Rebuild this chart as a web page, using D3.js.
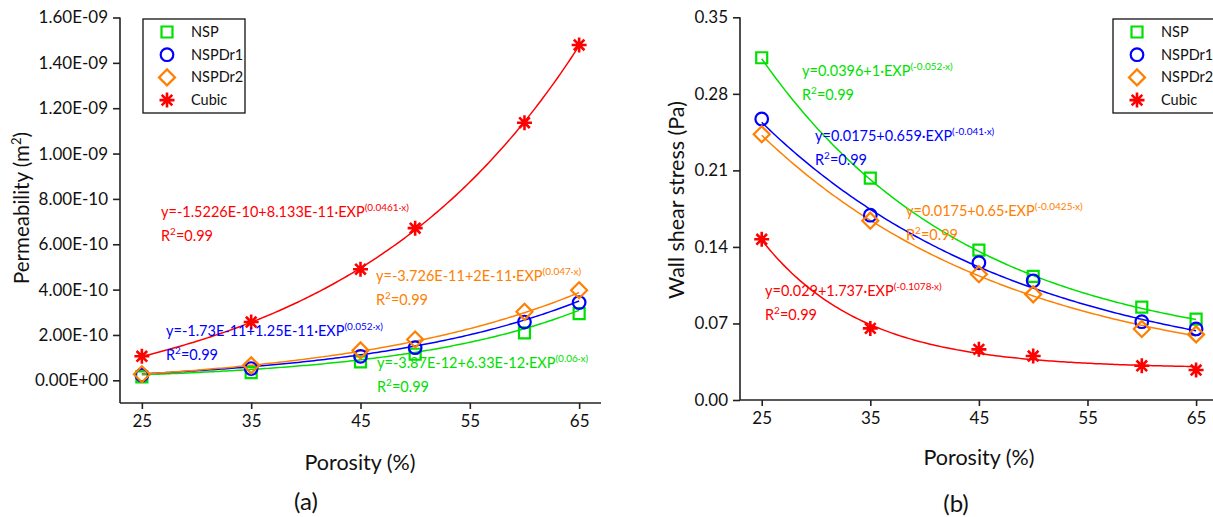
<!DOCTYPE html>
<html>
<head>
<meta charset="utf-8">
<script src="https://cdn.jsdelivr.net/npm/d3@7"></script>
<style>
  body { margin: 0; background: #fff; }
  svg { display: block; }
  text { font-family: Lato, "Open Sans", sans-serif; }
</style>
</head>
<body>
<script>
var w = 1213,
    h = 517;

var porosity = [25, 35, 45, 50, 60, 65];
var xTicks = [25, 35, 45, 55, 65];
var seriesNames = ["NSP", "NSPDr1", "NSPDr2", "Cubic"];
var seriesColors = ["#00e000", "#0000ff", "#ff8000", "#ff0000"];
var seriesShapes = ["square", "circle", "diamond", "star"];

// (a) permeability (m^2)
var permNSP    = [1.5e-11, 3.4e-11, 8.1e-11, 1.15e-10, 2.09e-10, 2.94e-10];
var permNSPDr1 = [2.3e-11, 5.2e-11, 1.06e-10, 1.44e-10, 2.57e-10, 3.43e-10];
var permNSPDr2 = [2.7e-11, 6.6e-11, 1.32e-10, 1.80e-10, 3.02e-10, 3.97e-10];
var permCubic  = [1.06e-10, 2.57e-10, 4.90e-10, 6.71e-10, 1.136e-9, 1.479e-9];
var permTicks = [0, 2e-10, 4e-10, 6e-10, 8e-10, 1e-9, 1.2e-9, 1.4e-9, 1.6e-9];
var permTickLabels = ["0.00E+00", "2.00E-10", "4.00E-10", "6.00E-10", "8.00E-10",
                      "1.00E-09", "1.20E-09", "1.40E-09", "1.60E-09"];
// fit y = a + b*exp(c*x)
var permFitA = [-3.87e-12, -1.73e-11, -3.726e-11, -1.5226e-10];
var permFitB = [6.33e-12, 1.25e-11, 2e-11, 8.133e-11];
var permFitC = [0.06, 0.052, 0.047, 0.0461];
var permEq = ["y=-3.87E-12+6.33E-12·EXP", "y=-1.73E-11+1.25E-11·EXP",
              "y=-3.726E-11+2E-11·EXP", "y=-1.5226E-10+8.133E-11·EXP"];
var permEqExp = ["(0.06·x)", "(0.052·x)", "(0.047·x)", "(0.0461·x)"];

// (b) wall shear stress (Pa)
var wssNSP    = [0.313, 0.203, 0.137, 0.113, 0.085, 0.074];
var wssNSPDr1 = [0.257, 0.169, 0.1255, 0.109, 0.0716, 0.065];
var wssNSPDr2 = [0.243, 0.164, 0.115, 0.0966, 0.065, 0.060];
var wssCubic  = [0.147, 0.0655, 0.0463, 0.0402, 0.0313, 0.0274];
var wssTicks = [0, 0.07, 0.14, 0.21, 0.28, 0.35];
var wssTickLabels = ["0.00", "0.07", "0.14", "0.21", "0.28", "0.35"];
var wssFitA = [0.0396, 0.0175, 0.0175, 0.029];
var wssFitB = [1, 0.659, 0.65, 1.737];
var wssFitC = [-0.052, -0.041, -0.0425, -0.1078];
var wssEq = ["y=0.0396+1·EXP", "y=0.0175+0.659·EXP",
             "y=0.0175+0.65·EXP", "y=0.029+1.737·EXP"];
var wssEqExp = ["(-0.052·x)", "(-0.041·x)", "(-0.0425·x)", "(-0.1078·x)"];

var svg = d3.select("body").append("svg")
  .attr("width", w)
  .attr("height", h);

function symbolPath(shape) {
  if (shape == "square") return "M-5.5,-5.5H5.5V5.5H-5.5Z";
  if (shape == "diamond") return "M0,-8L8,0L0,8L-8,0Z";
  if (shape == "star") return "M0,-7.5V7.5M-7.5,0H7.5M-5.3,-5.3L5.3,5.3M-5.3,5.3L5.3,-5.3";
  return null;
}

function drawMarker(g, shape, color, x, y) {
  if (shape == "circle") {
    g.append("circle").attr("cx", x).attr("cy", y).attr("r", 6.3)
      .attr("fill", "none").attr("stroke", color).attr("stroke-width", 2.2);
  } else {
    g.append("path").attr("d", symbolPath(shape))
      .attr("transform", "translate(" + x + "," + y + ")")
      .attr("fill", "none").attr("stroke", color)
      .attr("stroke-width", shape == "star" ? 2.6 : 2.2);
  }
}

function drawPanel(p) {
  var x = d3.scaleLinear().domain([23, 67]).range(p.xRange);
  var y = d3.scaleLinear().domain(p.yDomain).range(p.yRange);
  var g = svg.append("g");

  // fitted curves
  var xs = d3.range(25, 65.001, 0.25);
  p.series.forEach(function(s, i) {
    var line = d3.line()
      .x(function(d) { return x(d); })
      .y(function(d) { return y(p.fitA[i] + p.fitB[i] * Math.exp(p.fitC[i] * d)); });
    g.append("path").datum(xs).attr("d", line)
      .attr("fill", "none").attr("stroke", seriesColors[i]).attr("stroke-width", 1.5);
  });

  // markers
  p.series.forEach(function(s, i) {
    s.forEach(function(v, j) {
      drawMarker(g, seriesShapes[i], seriesColors[i], x(porosity[j]), y(v));
    });
  });

  // axes
  var xAxis = d3.axisBottom(x).tickValues(xTicks).tickSize(6).tickPadding(6);
  var gx = g.append("g").attr("transform", "translate(0," + p.yRange[0] + ")").call(xAxis);
  var yAxis = d3.axisLeft(y).tickValues(p.yTicks).tickSize(7).tickPadding(5)
    .tickFormat(function(d, i) { return p.yTickLabels[i]; });
  var gy = g.append("g").attr("transform", "translate(" + p.xRange[0] + ",0)").call(yAxis);
  [gx, gy].forEach(function(a) {
    a.select(".domain").attr("stroke", "#222").attr("stroke-width", 1.6);
    a.selectAll(".tick line").attr("stroke", "#222").attr("stroke-width", 1.6);
    a.selectAll(".tick text").attr("font-size", "17px").attr("fill", "#111")
      .style("font-family", "Lato, sans-serif");
  });
  gx.select(".domain").attr("d", "M" + p.xRange[0] + ",0H" + p.xRange[1]);
  gy.select(".domain").attr("d", "M0," + p.yRange[0] + "V" + p.yRange[1]);

  // equations
  p.eq.forEach(function(t, i) {
    var pos = p.eqPos[i];
    var t1 = g.append("text").attr("x", pos[0]).attr("y", pos[1])
      .attr("fill", seriesColors[i]).attr("font-size", "14.5px");
    t1.append("tspan").text(t);
    t1.append("tspan").attr("dy", -6).attr("font-size", "10px").text(p.eqExp[i]);
    var t2 = g.append("text").attr("x", pos[0]).attr("y", pos[1] + 24)
      .attr("fill", seriesColors[i]).attr("font-size", "14.5px");
    t2.append("tspan").text("R");
    t2.append("tspan").attr("dy", -6).attr("font-size", "10px").text("2");
    t2.append("tspan").attr("dy", 6).text("=0.99");
  });

  // legend
  var lg = g.append("g").attr("transform", "translate(" + p.legend[0] + "," + p.legend[1] + ")");
  lg.append("rect").attr("width", 102).attr("height", 94)
    .attr("fill", "#fff").attr("stroke", "#111").attr("stroke-width", 1.3);
  seriesNames.forEach(function(n, i) {
    drawMarker(lg, seriesShapes[i], seriesColors[i], 24, 13 + i * 22.7);
    lg.append("text").attr("x", 48).attr("y", 13 + i * 22.7 + 5)
      .attr("font-size", "14.5px").attr("fill", "#111").text(n);
  });

  // axis titles
  var yt = g.append("text").attr("transform", "translate(" + p.yTitle[0] + "," + p.yTitle[1] + ") rotate(-90)")
    .attr("text-anchor", "middle").attr("font-size", p.yTitleSize).attr("fill", "#111");
  yt.append("tspan").text(p.yTitleText);
  if (p.yTitleSup) {
    yt.append("tspan").attr("dy", -8).attr("font-size", "13px").text(p.yTitleSup);
    yt.append("tspan").attr("dy", 8).text(")");
  }
  g.append("text").attr("x", p.xTitle[0]).attr("y", p.xTitle[1])
    .attr("text-anchor", "middle").attr("font-size", "21.5px").attr("fill", "#111")
    .text("Porosity (%)");
  g.append("text").attr("x", p.tag[0]).attr("y", p.tag[1])
    .attr("text-anchor", "middle").attr("font-size", "24px").attr("fill", "#111")
    .text(p.tagText);
}

drawPanel({
  series: [permNSP, permNSPDr1, permNSPDr2, permCubic],
  fitA: permFitA, fitB: permFitB, fitC: permFitC,
  eq: permEq, eqExp: permEqExp,
  eqPos: [[377, 368], [166, 336], [376, 281], [161, 217]],
  yDomain: [-1e-10, 1.6e-9], yTicks: permTicks, yTickLabels: permTickLabels,
  xRange: [120, 601], yRange: [403, 17.5],
  legend: [143, 19],
  yTitle: [29, 208], yTitleText: "Permeability (m", yTitleSup: "2", yTitleSize: "20.5px",
  xTitle: [360, 470], tag: [306, 510], tagText: "(a)"
});

drawPanel({
  series: [wssNSP, wssNSPDr1, wssNSPDr2, wssCubic],
  fitA: wssFitA, fitB: wssFitB, fitC: wssFitC,
  eq: wssEq, eqExp: wssEqExp,
  eqPos: [[802, 76], [815, 141], [906, 216], [765, 296]],
  yDomain: [0, 0.35], yTicks: wssTicks, yTickLabels: wssTickLabels,
  xRange: [740, 1217.8], yRange: [400, 17.3],
  legend: [1113, 19],
  yTitle: [684, 200], yTitleText: "Wall shear stress (Pa)", yTitleSup: null, yTitleSize: "21.5px",
  xTitle: [979, 465], tag: [956, 512], tagText: "(b)"
});
</script>
</body>
</html>
